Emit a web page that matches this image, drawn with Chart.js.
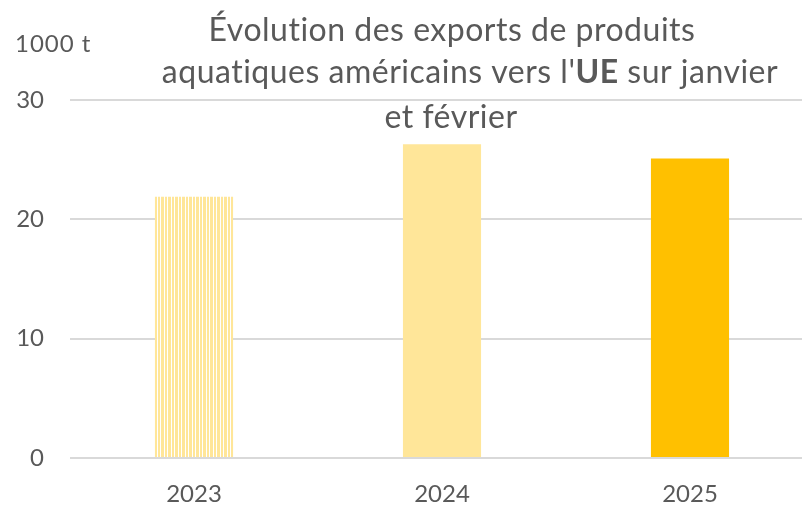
<!DOCTYPE html>
<html lang="fr">
<head>
<meta charset="utf-8">
<script src="https://cdn.jsdelivr.net/npm/chart.js@4/dist/chart.umd.min.js"></script>
<style>
    html, body { margin: 0; padding: 0; background: #fff; overflow: hidden; }
    #wrap { width: 814px; height: 506px; position: relative; }
</style>
</head>
<body>
<div id="wrap"><canvas id="chart"></canvas></div>
<script>
"use strict";

// exports de produits aquatiques US vers l'UE, janvier + février (1000 t)
const years = ['2023', '2024', '2025'];
const exportsUE = [21.9, 26.3, 25.1];
const yTicks = [0, 10, 20, 30];
const unitLabel = '1000 t';
const titleLines = [
    [{text: 'Évolution des exports de produits'}],
    [{text: "aquatiques américains vers l'"}, {text: 'UE', bold: true}, {text: ' sur janvier'}],
    [{text: 'et février'}]
];

const FONT = 'Lato, "Noto Sans", sans-serif';
const TEXT = '#595959';
const TITLE_SIZE = 32;
const TICK_SIZE = 24;

// hachures verticales pour 2023
function stripes() {
    const c = document.createElement('canvas');
    c.width = 7;
    c.height = 4;
    const g = c.getContext('2d');
    g.fillStyle = '#FFE699';
    g.fillRect(0, 0, 7, 4);
    g.fillStyle = '#ffffff';
    g.fillRect(3, 0, 1, 4);
    g.fillRect(6, 0, 1, 4);
    return g.createPattern(c, 'repeat');
}

const overlay = {
    id: 'overlay',
    afterDraw(chart) {
        const ctx = chart.ctx;
        ctx.save();
        ctx.fillStyle = TEXT;
        ctx.textBaseline = 'middle';
        ctx.textAlign = 'left';

        // unité en haut de l'axe
        ctx.letterSpacing = '1px';
        ctx.font = TICK_SIZE + 'px ' + FONT;
        ctx.fillText(unitLabel, 15, 44);

        // titre multi-lignes, "UE" en gras
        ctx.letterSpacing = '0.5px';
        const centers = [452, 470, 451], ys = [31, 73, 118];
        titleLines.forEach((parts, i) => {
            let w = 0;
            parts.forEach(p => {
                ctx.font = (p.bold ? 'bold ' : '') + TITLE_SIZE + 'px ' + FONT;
                p.w = ctx.measureText(p.text).width;
                w += p.w;
            });
            let x = centers[i] - w / 2;
            parts.forEach(p => {
                ctx.font = (p.bold ? 'bold ' : '') + TITLE_SIZE + 'px ' + FONT;
                ctx.fillText(p.text, x, ys[i]);
                x += p.w;
            });
        });
        ctx.restore();
    }
};

const ctx = document.getElementById('chart');
new Chart(ctx, {
    type: 'bar',
    data: {
        labels: years,
        datasets: [{
            data: exportsUE,
            backgroundColor: [stripes(), '#FFE699', '#FFC000'],
            borderWidth: 0,
            barPercentage: 0.315,
            categoryPercentage: 1
        }]
    },
    options: {
        responsive: true,
        maintainAspectRatio: false,
        animation: false,
        layout: {padding: {top: 100, right: 0, bottom: 0, left: 0}},
        plugins: {legend: {display: false}, tooltip: {enabled: false}, title: {display: false}},
        scales: {
            x: {
                grid: {display: false, drawTicks: false},
                border: {display: false},
                ticks: {color: TEXT, font: {family: FONT, size: TICK_SIZE}, padding: 22},
                afterFit(s) { s.height = 48; }
            },
            y: {
                min: 0,
                max: 30,
                afterBuildTicks(s) { s.ticks = yTicks.map(v => ({value: v})); },
                grid: {color: '#D9D9D9', lineWidth: 2, drawTicks: false},
                border: {display: false},
                ticks: {color: TEXT, font: {family: FONT, size: TICK_SIZE}, padding: 26},
                afterFit(s) { s.width = 70; }
            }
        }
    },
    plugins: [overlay]
});
</script>
</body>
</html>
